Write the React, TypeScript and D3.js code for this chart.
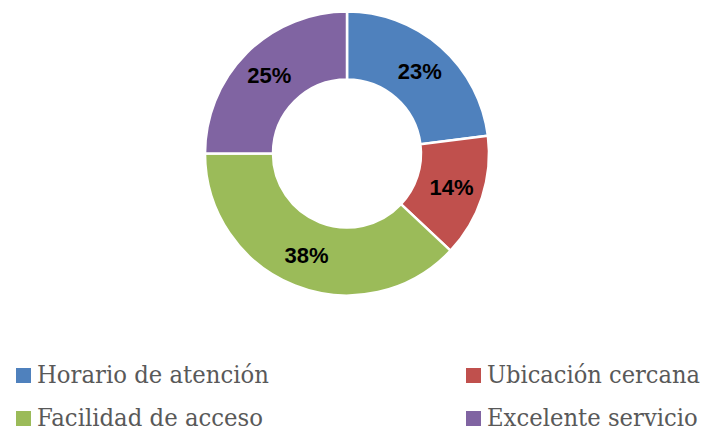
import React, { useRef, useEffect } from 'react';
import * as d3 from 'd3';

const categories = ['Horario de atención', 'Ubicación cercana', 'Facilidad de acceso', 'Excelente servicio'];
const values = [23, 14, 38, 25];
const colors = ['#4F81BD', '#C0504D', '#9BBB59', '#8064A2'];

export default function App() {
  const legendRef = useRef<SVGGElement>(null);
  const width = 706;
  const height = 432;
  const cx = 347;
  const cy = 153.5;
  const outerR = 142;
  const innerR = 74;

  const pie = d3.pie<number>().sort(null).value(d => d);
  const arcs = pie(values);
  const arc = d3.arc<d3.PieArcDatum<number>>().innerRadius(innerR).outerRadius(outerR);
  const labelArc = d3.arc<d3.PieArcDatum<number>>().innerRadius(110).outerRadius(110);

  // legend grid: 2 columns x 2 rows
  const colX = d3.scaleOrdinal<number, number>().domain([0, 1]).range([16, 466]);
  const rowY = d3.scaleOrdinal<number, number>().domain([0, 1]).range([368, 411]);
  // the serif in the reference is narrower than DejaVu Serif, squeeze to fit
  const textWidths = [232, 213, 226, 211];

  useEffect(() => {
    if (!legendRef.current) return;
    d3.select(legendRef.current)
      .selectAll<SVGTextElement, unknown>('text')
      .each(function (_, i) {
        const natural = this.getComputedTextLength();
        const k = natural > 0 ? textWidths[i] / natural : 1;
        const x = colX(i % 2) + 21;
        const y = rowY(Math.floor(i / 2)) + 15;
        d3.select(this).attr('transform', `translate(${x},${y}) scale(${k},1)`);
      });
  }, []);

  return (
    <svg width={width} height={height} style={{ position: 'absolute', left: 0, top: 0, background: '#fff' }}>
      <g transform={`translate(${cx},${cy})`}>
        {arcs.map((a, i) => (
          <path key={i} d={arc(a) || ''} fill={colors[i]} stroke="#fff" strokeWidth={2.5} />
        ))}
        {arcs.map((a, i) => {
          const [x, y] = labelArc.centroid(a);
          return (
            <text
              key={i}
              x={x}
              y={y}
              textAnchor="middle"
              dominantBaseline="central"
              style={{ fontFamily: 'Liberation Sans, Arial, sans-serif', fontWeight: 'bold', fontSize: 22 }}
              fill="#000"
            >
              {values[i]}%
            </text>
          );
        })}
      </g>
      <g>
        {categories.map((c, i) => (
          <rect key={c} x={colX(i % 2)} y={rowY(Math.floor(i / 2))} width={15} height={15} fill={colors[i]} />
        ))}
      </g>
      <g ref={legendRef}>
        {categories.map((c, i) => (
          <text
            key={c}
            transform={`translate(${colX(i % 2) + 21},${rowY(Math.floor(i / 2)) + 15})`}
            style={{ fontFamily: '"DejaVu Serif", serif', fontSize: 24 }}
            fill="#595959"
          >
            {c}
          </text>
        ))}
      </g>
    </svg>
  );
}
